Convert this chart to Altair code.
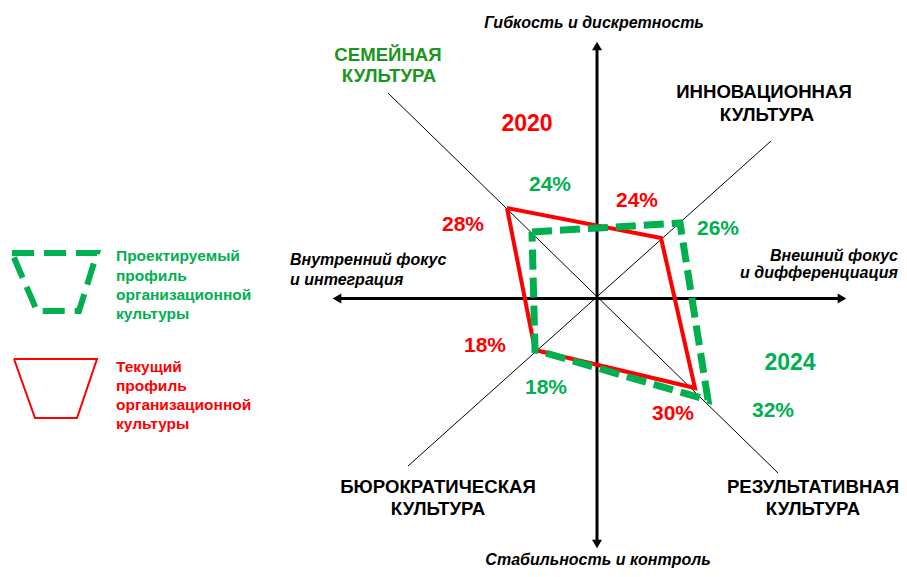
import altair as alt
import pandas as pd

GREEN = "#00B050"
RED = "#FF0000"
DARK_GREEN = "#1A961A"
FONT = "Liberation Sans"

# coordinate frame: u = horizontal (external focus +), v = vertical (flexibility +)
# diagonal guide lines (culture directions)
diag_u1 = [-209, -189]
diag_v1 = [204, -169]
diag_u2 = [181, 174]
diag_v2 = [-176, 156]

# main axes (vertical, horizontal)
axis_u1 = [0, -260]
axis_v1 = [-247, -1.5]
axis_u2 = [0, 245]
axis_v2 = [251, -1.5]

# arrow heads
arrow_u = [0, 0, -260, 245]
arrow_v = [251, -247, -1.5, -1.5]
arrow_shape = ["triangle-up", "triangle-down", "triangle-left", "triangle-right"]

# profiles: vertices clan, adhocracy, market, hierarchy
current_u = [-90, 64, 98, -62]
current_v = [89, 59, -91, -53]
target_u = [-65, 83, 111, -62]
target_v = [65, 74, -103, -53]

# legend swatches
leg_target_u = [-585, -500, -518, -560]
leg_target_v = [44, 44, -14, -14]
leg_current_u = [-583, -500, -520, -562]
leg_current_v = [-62, -62, -121, -121]

# percentage labels
pct_text = ["24%", "28%", "24%", "26%", "18%", "18%", "30%", "32%"]
pct_u = [-47, -134, 40, 121, -112, -51, 76, 176]
pct_v = [112, 72, 96, 68, -49, -91, -117, -114]
pct_color = [GREEN, RED, RED, GREEN, RED, GREEN, RED, GREEN]

# year labels
year_text = ["2020", "2024"]
year_u = [-70, 193]
year_v = [173, -66]
year_color = [RED, GREEN]

# culture labels (one row per line)
cult_text = ["СЕМЕЙНАЯ", "КУЛЬТУРА", "ИННОВАЦИОННАЯ", "КУЛЬТУРА",
             "БЮРОКРАТИЧЕСКАЯ", "КУЛЬТУРА", "РЕЗУЛЬТАТИВНАЯ", "КУЛЬТУРА"]
cult_u = [-209, -208, 167, 170, -159, -159, 216, 216]
cult_v = [242, 221, 205, 182, -190, -212, -190, -212]
cult_color = [DARK_GREEN, DARK_GREEN, "#000000", "#000000",
              "#000000", "#000000", "#000000", "#000000"]

# axis titles
axc_text = ["Гибкость и дискретность", "Стабильность и контроль"]
axc_u = [-3, 1]
axc_v = [274, -263]
axl_text = ["Внутренний фокус", "и интеграция"]
axl_u = [-307, -307]
axl_v = [37, 17]
axr_text = ["Внешний фокус", "и дифференциация"]
axr_u = [301, 301]
axr_v = [41, 24]

# legend text
leg_text = ["Проектируемый", "профиль", "организационной", "культуры",
            "Текущий", "профиль", "организационной", "культуры"]
leg_u = [-481] * 8
leg_v = [41, 21, 2, -17, -70, -89, -108, -127]
leg_color = [GREEN] * 4 + [RED] * 4

W, H = 891, 561
xs = alt.Scale(domain=[-589, 302], nice=False, zero=False)
ys = alt.Scale(domain=[-272, 289], nice=False, zero=False)


def X(f="u"):
    return alt.X(f"{f}:Q", scale=xs, axis=None)


def Y(f="v"):
    return alt.Y(f"{f}:Q", scale=ys, axis=None)


diag_df = pd.DataFrame({"u": diag_u1, "v": diag_v1, "u2": diag_u2, "v2": diag_v2})
diag = alt.Chart(diag_df).mark_rule(color="#000000", strokeWidth=1).encode(
    x=X(), y=Y(), x2="u2:Q", y2="v2:Q")

ax_df = pd.DataFrame({"u": axis_u1, "v": axis_v1, "u2": axis_u2, "v2": axis_v2})
axes = alt.Chart(ax_df).mark_rule(color="#000000", strokeWidth=3).encode(
    x=X(), y=Y(), x2="u2:Q", y2="v2:Q")

arr_df = pd.DataFrame({"u": arrow_u, "v": arrow_v, "s": arrow_shape})
arrows = alt.Chart(arr_df).mark_point(filled=True, color="#000000", opacity=1, size=100).encode(
    x=X(), y=Y(), shape=alt.Shape("s:N", scale=None))


def poly_df(us, vs):
    return pd.DataFrame({"u": us + us[:1], "v": vs + vs[:1], "i": list(range(len(us) + 1))})


cur = alt.Chart(poly_df(current_u, current_v)).mark_line(
    color=RED, strokeWidth=4, strokeJoin="miter").encode(x=X(), y=Y(), order="i:Q")
tgt = alt.Chart(poly_df(target_u, target_v)).mark_line(
    color=GREEN, strokeWidth=7, strokeDash=[20, 8], strokeJoin="miter", strokeCap="butt").encode(
    x=X(), y=Y(), order="i:Q")
leg_tgt = alt.Chart(poly_df(leg_target_u, leg_target_v)).mark_line(
    color=GREEN, strokeWidth=6, strokeDash=[22, 10], strokeJoin="miter", strokeCap="butt").encode(
    x=X(), y=Y(), order="i:Q")
leg_cur = alt.Chart(poly_df(leg_current_u, leg_current_v)).mark_line(
    color=RED, strokeWidth=2, strokeJoin="miter").encode(x=X(), y=Y(), order="i:Q")


def text_layer(texts, us, vs, colors=None, **kw):
    df = pd.DataFrame({"t": texts, "u": us, "v": vs})
    enc = dict(x=X(), y=Y(), text="t:N")
    if colors is not None:
        df["c"] = colors
        enc["color"] = alt.Color("c:N", scale=None)
    return alt.Chart(df).mark_text(font=FONT, fontWeight="bold", baseline="middle", **kw).encode(**enc)


pct = text_layer(pct_text, pct_u, pct_v, pct_color, fontSize=21, align="center")
years = text_layer(year_text, year_u, year_v, year_color, fontSize=23, align="center")
cult = text_layer(cult_text, cult_u, cult_v, cult_color, fontSize=18.6, align="center")
axc = text_layer(axc_text, axc_u, axc_v, None, fontSize=16, fontStyle="italic", align="center", color="#000000")
axl = text_layer(axl_text, axl_u, axl_v, None, fontSize=16, fontStyle="italic", align="left", color="#000000")
axr = text_layer(axr_text, axr_u, axr_v, None, fontSize=16, fontStyle="italic", align="right", color="#000000")
leg = text_layer(leg_text, leg_u, leg_v, leg_color, fontSize=15.5, align="left")

chart = alt.layer(diag, axes, arrows, cur, tgt, leg_tgt, leg_cur,
                  pct, years, cult, axc, axl, axr, leg).properties(
    width=W, height=H, padding=0, autosize=alt.AutoSizeParams(type="none"),
    background="#ffffff"
).configure_view(stroke=None)

chart.save("out.html", embed_options={"renderer": "svg", "actions": False})
